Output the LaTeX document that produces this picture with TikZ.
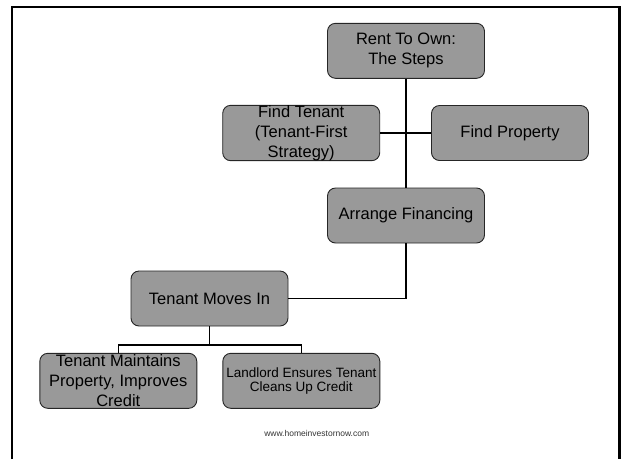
\documentclass[tikz,border=0pt]{standalone}
\usepackage{fontspec}
\setmainfont{Liberation Sans}
\usepackage{tikz}
\usetikzlibrary{shapes,arrows.meta}
\usepackage{xcolor}
\definecolor{boxgray}{HTML}{999999}

\begin{document}
\begin{tikzpicture}[
  x=1pt, y=-1pt,
  stepbox/.style={rectangle, draw=black!85, line width=0.9pt, fill=boxgray, minimum width=157pt, minimum height=55pt, inner sep=0pt, align=center, font=\fontsize{16.5}{20}\selectfont, rounded corners=8pt},
  link/.style={line width=1.6pt},
  note/.style={font=\fontsize{8.5}{10}\selectfont, text=black!80}
]
  \useasboundingbox (0,0) rectangle (621,459);
  % slide frame
  \draw[line width=2.2pt] (12,459) -- (12,7) -- (619.5,7) -- (619.5,459);

  \node[stepbox] (top) at (406,50.8) {Rent To Own:\\The Steps};
  \node[stepbox] (findtenant) at (301.2,133) {Find Tenant\\(Tenant-First\\Strategy)};
  \node[stepbox] (findprop) at (510,133) {Find Property};
  \node[stepbox] (financing) at (406,215.5) {Arrange Financing};
  \node[stepbox] (movesin) at (209.5,298.5) {Tenant Moves In};
  \node[stepbox] (maintains) at (118.3,380.8) {Tenant Maintains\\Property, Improves\\Credit};
  \node[stepbox, font=\fontsize{13.5}{14}\selectfont] (landlord) at (301.3,380.8) {Landlord Ensures Tenant\\Cleans Up Credit};
  \node[note] (site) at (316.7,433) {www.homeinvestornow.com};

  \coordinate (split) at (209.5,345);
  \draw[link] (top.south) -- (financing.north);
  \draw[link] (findtenant.east) -- (findprop.west);
  \draw[link] (financing.south) |- (movesin.east);
  \draw[link] (movesin.south) -- (split);
  \draw[link] (maintains.north) -- (maintains.north |- split) -- (landlord.north |- split) -- (landlord.north);
\end{tikzpicture}
\end{document}
